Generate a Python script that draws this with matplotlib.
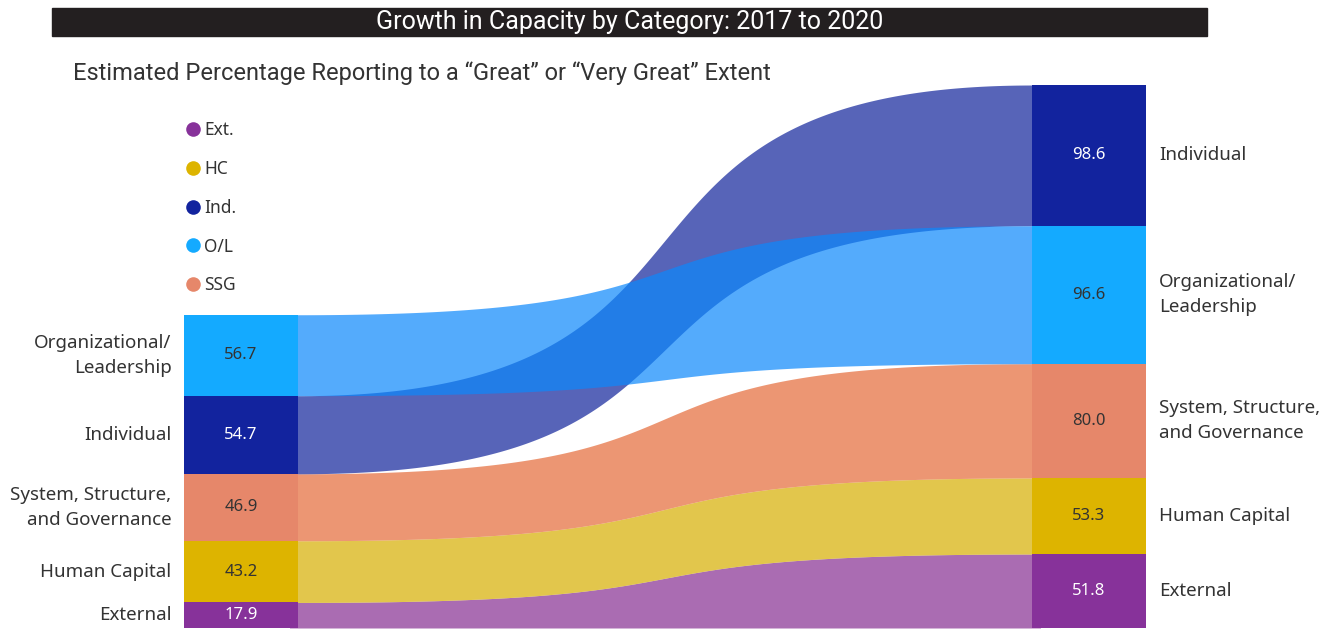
import numpy as np
import matplotlib.pyplot as plt
from matplotlib.lines import Line2D
from matplotlib.patches import Rectangle

plt.rcParams['font.family'] = ['Noto Sans', 'DejaVu Sans']

# categories, stacked bottom -> top in the 2017 column
categories = ['External', 'Human Capital', 'System, Structure,\nand Governance',
              'Individual', 'Organizational/\nLeadership']
values_2017 = [17.9, 43.2, 46.9, 54.7, 56.7]
values_2020 = [51.8, 53.3, 80.0, 98.6, 96.6]
order_2017 = [0, 1, 2, 3, 4]
order_2020 = [0, 1, 2, 4, 3]

legend_labels = ['Ext.', 'HC', 'Ind.', 'O/L', 'SSG']
legend_idx = [0, 1, 3, 4, 2]

node_colors = ['#87329A', '#DDB400', '#E6876A', '#12239E', '#14AAFF']
band_colors = ['#862E92', '#D7AF00', '#E46A38', '#10239A', '#0C88FC']
value_colors = ['white', '#333333', '#333333', 'white', '#333333']
text_col = '#333333'

W, H = 1334, 631
fig = plt.figure(figsize=(W / 100, H / 100), dpi=100)

# title bar
fig.patches.append(Rectangle((52 / W, 1 - 36 / H), (1207 - 52) / W, 28 / H,
                             transform=fig.transFigure, color='#231F20', zorder=0))
fig.text(629.5 / W, 1 - 22 / H, 'Growth in Capacity by Category: 2017 to 2020',
         color='white', fontsize=18, ha='center', va='center',
         family=['Roboto', 'DejaVu Sans'])
fig.text(73 / W, 1 - 80 / H,
         'Estimated Percentage Reporting to a \u201cGreat\u201d or \u201cVery Great\u201d Extent',
         color=text_col, fontsize=17, ha='left', va='baseline',
         family=['Roboto', 'DejaVu Sans'])

ax = fig.add_axes([184 / W, 3 / H, (1146 - 184) / W, (628 - 85) / H])
w = 114 / 848  # node width in column units
total = sum(values_2020)
ax.set_xlim(0, 1 + w)
ax.set_ylim(0, total)
ax.axis('off')


def stack(values, order):
    lo, hi = {}, {}
    y = 0.0
    for i in order:
        lo[i] = y
        y += values[i]
        hi[i] = y
    return lo, hi


lo17, hi17 = stack(values_2017, order_2017)
lo20, hi20 = stack(values_2020, order_2020)

# ribbons: cubic bezier, control points pushed past the midpoint
t = np.linspace(0, 1, 500)
x0, x1 = w, 1.0
k = 0.65
c1 = x0 + k * (x1 - x0)
c2 = x1 - k * (x1 - x0)
xs = (1 - t) ** 3 * x0 + 3 * (1 - t) ** 2 * t * c1 + 3 * (1 - t) * t ** 2 * c2 + t ** 3 * x1
s = 3 * t ** 2 - 2 * t ** 3
# run a little under the nodes so no seam shows at the joins
xs = np.concatenate([[x0 - 0.01], xs, [x1 + 0.01]])
s = np.concatenate([[0.0], s, [1.0]])
for i in [0, 1, 2, 3, 4]:
    top = hi17[i] + (hi20[i] - hi17[i]) * s
    bot = lo17[i] + (lo20[i] - lo17[i]) * s
    ax.fill_between(xs, bot, top, color=band_colors[i], alpha=0.7, lw=0, zorder=1)

# nodes + labels
for i, cat in enumerate(categories):
    ax.bar(0, values_2017[i], bottom=lo17[i], width=w, align='edge',
           color=node_colors[i], lw=0, zorder=2)
    ax.bar(1, values_2020[i], bottom=lo20[i], width=w, align='edge',
           color=node_colors[i], lw=0, zorder=2)
    m17 = (lo17[i] + hi17[i]) / 2
    m20 = (lo20[i] + hi20[i]) / 2
    ax.text(w / 2, m17, f'{values_2017[i]:.1f}', ha='center', va='center',
            fontsize=12, color=value_colors[i], zorder=3)
    ax.text(1 + w / 2, m20, f'{values_2020[i]:.1f}', ha='center', va='center',
            fontsize=12, color=value_colors[i], zorder=3)
    ax.annotate(cat, (0, m17), xytext=(-9, 0), textcoords='offset points',
                ha='right', va='center', fontsize=13.5, color=text_col,
                linespacing=1.5)
    ax.annotate(cat, (1 + w, m20), xytext=(9.5, 0), textcoords='offset points',
                ha='left', va='center', fontsize=13.5, color=text_col,
                linespacing=1.5)

handles = [Line2D([], [], ls='none', marker='o', markersize=10.5,
                  markerfacecolor=node_colors[i], markeredgewidth=0)
           for i in legend_idx]
fig.legend(handles, legend_labels, loc='upper left',
           bbox_to_anchor=(187 / W, 1 - 121 / H), frameon=False,
           handlelength=0.7, handletextpad=0.3, borderpad=0, borderaxespad=0,
           labelspacing=1.2, prop={'size': 12.5}, labelcolor=text_col)

fig.savefig('out.png', dpi=100)
